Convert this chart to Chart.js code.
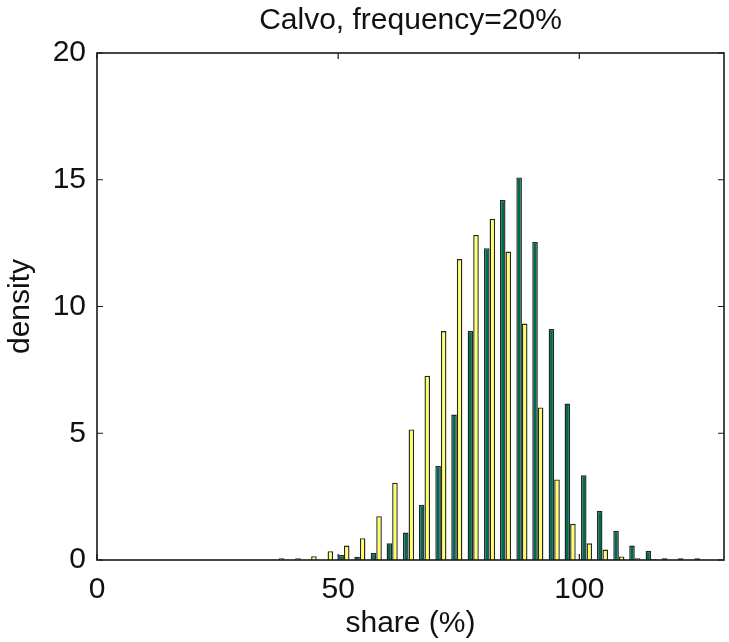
<!DOCTYPE html>
<html>
<head>
<meta charset="utf-8">
<script src="https://cdn.jsdelivr.net/npm/chart.js@4.4.1/dist/chart.umd.min.js"></script>
<style>
  html, body { margin: 0; padding: 0; background: #ffffff; }
  #wrap { width: 729px; height: 642px; }
</style>
</head>
<body>
<div id="wrap"><canvas id="c" width="729" height="642"></canvas></div>
<script>
// ---- data ----
const binCenters = [37.7, 41.1, 44.4, 47.8, 51.2, 54.5, 57.9, 61.2, 64.6, 67.9, 71.3, 74.6, 78.0, 81.4, 84.7, 88.1, 91.4, 94.8, 98.1, 101.5, 104.8, 108.2, 111.5, 114.9, 118.3, 121.6, 125.0];
const greenDensity = [0, 0, 0, 0, 0.2, 0.13, 0.28, 0.66, 1.08, 2.18, 3.71, 5.74, 9.03, 12.3, 14.2, 15.09, 12.54, 9.11, 6.17, 3.34, 1.94, 1.15, 0.57, 0.36, 0.07, 0.07, 0.07];
const yellowDensity = [0.07, 0.07, 0.15, 0.35, 0.57, 0.86, 1.73, 3.05, 5.15, 7.27, 9.03, 11.87, 12.83, 13.46, 12.17, 9.33, 6.02, 3.18, 1.43, 0.66, 0.41, 0.14, 0.07, 0.04, 0, 0, 0];
const xTicks = [0, 50, 100];
const yTicks = [0, 5, 10, 15, 20];
const titleText = 'Calvo, frequency=20%';
const xLabel = 'share (%)';
const yLabel = 'density';

const FONT = '"Liberation Sans", Arial, Helvetica, sans-serif';

const toPoints = (vals) => binCenters.map((x, i) => ({ x: x, y: vals[i] }));

const frameTicks = {
  id: 'frameTicks',
  afterDatasetsDraw(chart) {
    const { ctx, chartArea: a, scales } = chart;
    ctx.save();
    ctx.strokeStyle = '#1a1a1a';
    ctx.lineWidth = 1.6;
    ctx.strokeRect(a.left, a.top, a.right - a.left, a.bottom - a.top);
    ctx.lineWidth = 1.2;
    const L = 6;
    ctx.beginPath();
    xTicks.forEach(v => {
      const px = scales.x.getPixelForValue(v);
      ctx.moveTo(px, a.bottom); ctx.lineTo(px, a.bottom - L);
      ctx.moveTo(px, a.top); ctx.lineTo(px, a.top + L);
    });
    yTicks.forEach(v => {
      const py = scales.y.getPixelForValue(v);
      ctx.moveTo(a.left, py); ctx.lineTo(a.left + L, py);
      ctx.moveTo(a.right, py); ctx.lineTo(a.right - L, py);
    });
    ctx.stroke();
    // title centred over the plot area
    ctx.fillStyle = '#111111';
    ctx.font = '30px ' + FONT;
    ctx.textAlign = 'center';
    ctx.textBaseline = 'middle';
    ctx.fillText(titleText, (a.left + a.right) / 2, 21);
    ctx.restore();
  }
};

new Chart(document.getElementById('c'), {
  type: 'bar',
  data: {
    datasets: [
      {
        label: 'green',
        data: toPoints(greenDensity),
        backgroundColor: '#006a4e',
        borderColor: '#262626',
        borderWidth: 1.4,
        categoryPercentage: 0.7,
        barPercentage: 1.0
      },
      {
        label: 'yellow',
        data: toPoints(yellowDensity),
        backgroundColor: '#ffff66',
        borderColor: '#262626',
        borderWidth: 1.4,
        categoryPercentage: 0.7,
        barPercentage: 1.0
      }
    ]
  },
  options: {
    responsive: false,
    animation: false,
    devicePixelRatio: 1,
    layout: { padding: { left: 0, right: 5, top: 53, bottom: 0 } },
    plugins: {
      legend: { display: false },
      tooltip: { enabled: false },
      title: { display: false }
    },
    scales: {
      x: {
        type: 'linear',
        min: 0,
        max: 130,
        offset: false,
        grid: { display: false, drawTicks: false },
        border: { display: false },
        afterBuildTicks(scale) { scale.ticks = xTicks.map(v => ({ value: v })); },
        ticks: {
          color: '#111111',
          font: { family: FONT, size: 30 },
          padding: 12,
          maxRotation: 0
        },
        title: {
          display: true,
          text: xLabel,
          color: '#111111',
          font: { family: FONT, size: 30, lineHeight: 1.2 },
          padding: { top: 0, bottom: 0 }
        },
        afterFit(scale) { scale.height = 82; }
      },
      y: {
        min: 0,
        max: 20,
        grid: { display: false, drawTicks: false },
        border: { display: false },
        afterBuildTicks(scale) { scale.ticks = yTicks.map(v => ({ value: v })); },
        ticks: {
          color: '#111111',
          font: { family: FONT, size: 30 },
          padding: 11
        },
        title: {
          display: true,
          text: yLabel,
          color: '#111111',
          font: { family: FONT, size: 30, lineHeight: 1.2 },
          padding: { top: 3, bottom: 0 }
        },
        afterFit(scale) { scale.width = 97; }
      }
    }
  },
  plugins: [frameTicks]
});
</script>
</body>
</html>
